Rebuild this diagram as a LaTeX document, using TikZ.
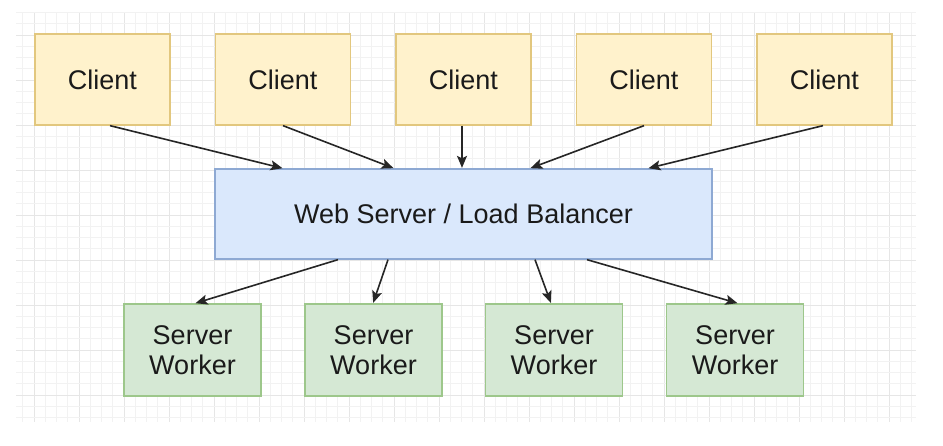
\documentclass[tikz,border=0pt]{standalone}
\usepackage{fontspec}
\setmainfont{Liberation Sans}
\usetikzlibrary{arrows.meta}
\definecolor{cfill}{HTML}{FFF2CC}
\definecolor{cline}{HTML}{E2C77E}
\definecolor{wfill}{HTML}{DAE8FC}
\definecolor{wline}{HTML}{8EA9D3}
\definecolor{gfill}{HTML}{D5E8D4}
\definecolor{gline}{HTML}{9DC78B}
\definecolor{gridminor}{HTML}{F2F2F2}
\definecolor{gridmajor}{HTML}{E6E6E6}
\definecolor{txt}{HTML}{1A1A1A}
\tikzset{
  box/.style={draw, line width=1.3pt, inner sep=0pt, align=center, text=txt,
    font=\fontsize{27}{30}\selectfont},
  clientbox/.style={box, fill=cfill, draw=cline, minimum width=135pt, minimum height=91pt},
  lbbox/.style={box, fill=wfill, draw=wline, minimum width=497pt, minimum height=90pt},
  workerbox/.style={box, fill=gfill, draw=gline, minimum width=137pt, minimum height=92pt},
  conn/.style={line width=1.6pt, draw=black!85, -{Stealth[length=12pt,width=10pt,inset=2.5pt]}, shorten >=0.5pt}
}
\begin{document}
\begin{tikzpicture}[x=1pt,y=-1pt]
\useasboundingbox (0,0) rectangle (943,445);
\fill[white] (0,0) rectangle (943,445);
% grid
\begin{scope}
\clip (16,12) rectangle (916,422);
\foreach \i in {-2,...,80} {
  \pgfmathsetmacro{\xx}{34+11.25*\i}
  \pgfmathtruncatemacro{\m}{mod(\i+80,4)}
  \ifnum\m=0
    \draw[gridmajor, line width=1pt] (\xx,12) -- (\xx,422);
  \else
    \draw[gridminor, line width=0.9pt] (\xx,12) -- (\xx,422);
  \fi
}
\foreach \j in {-3,...,36} {
  \pgfmathsetmacro{\yy}{35+11.25*\j}
  \pgfmathtruncatemacro{\m}{mod(\j+80,4)}
  \ifnum\m=0
    \draw[gridmajor, line width=1pt] (16,\yy) -- (916,\yy);
  \else
    \draw[gridminor, line width=0.9pt] (16,\yy) -- (916,\yy);
  \fi
}
\end{scope}
% nodes
\node[clientbox] (c1) at (102.5,79.5) {Client};
\node[clientbox] (c2) at (283,79.5) {Client};
\node[clientbox] (c3) at (463.5,79.5) {Client};
\node[clientbox] (c4) at (644,79.5) {Client};
\node[clientbox] (c5) at (824.5,79.5) {Client};
\node[lbbox] (ws) at (463.5,214) {Web Server / Load Balancer};
\node[workerbox] (w1) at (192.5,350) {Server\\Worker};
\node[workerbox] (w2) at (373.5,350) {Server\\Worker};
\node[workerbox] (w3) at (554,350) {Server\\Worker};
\node[workerbox] (w4) at (735,350) {Server\\Worker};
% connectors
\draw[conn] ([xshift=7.5pt]c1.south) -- ([xshift=-180.5pt]ws.north);
\draw[conn] (c2.south) -- ([xshift=-69.5pt]ws.north);
\draw[conn] ([xshift=-1.5pt]c3.south) -- ([xshift=-1.5pt]ws.north);
\draw[conn] (c4.south) -- ([xshift=66.5pt]ws.north);
\draw[conn] ([xshift=-1.5pt]c5.south) -- ([xshift=184.5pt]ws.north);
\draw[conn] ([xshift=-125.5pt]ws.south) -- ([xshift=2.5pt]w1.north);
\draw[conn] ([xshift=-75.5pt]ws.south) -- ([xshift=-0.5pt]w2.north);
\draw[conn] ([xshift=71.5pt]ws.south) -- ([xshift=-3pt]w3.north);
\draw[conn] ([xshift=123.5pt]ws.south) -- ([xshift=3pt]w4.north);
\end{tikzpicture}
\end{document}
